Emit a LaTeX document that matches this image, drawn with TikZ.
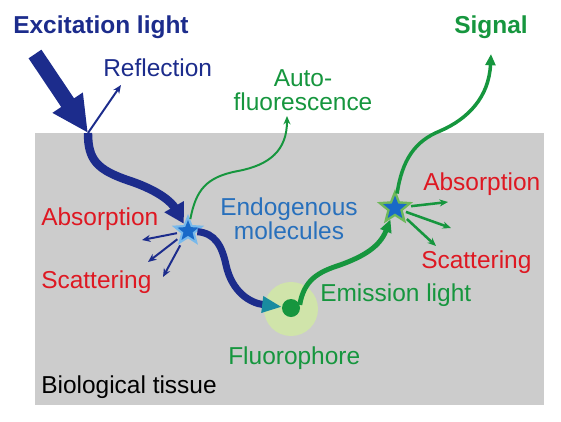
\documentclass[tikz,border=0pt]{standalone}
\usepackage{fontspec}
\setmainfont{Liberation Sans}
\usetikzlibrary{arrows.meta,shapes.geometric}
\definecolor{darkblue}{RGB}{28,44,140}
\definecolor{molblue}{RGB}{40,112,188}
\definecolor{sigreen}{RGB}{22,150,62}
\definecolor{lossred}{RGB}{222,24,34}
\definecolor{tissuegray}{RGB}{204,204,204}
\definecolor{glowgreen}{RGB}{208,228,170}
\definecolor{glowblue}{RGB}{120,185,235}
\definecolor{starblue}{RGB}{25,105,200}
\definecolor{tealhead}{RGB}{25,140,160}
\definecolor{stargreen}{RGB}{110,185,90}
\tikzset{
  lbl/.style={inner sep=0pt, anchor=base west, font=\fontsize{17.4}{16.4}\selectfont},
  blue thin/.style={darkblue, line width=1.4pt, -{Stealth[length=6pt,width=5pt]}},
  green thin/.style={sigreen, line width=1.8pt, -{Stealth[length=6pt,width=5pt]}},
  molecule/.style={star, star points=5, star point ratio=2.3, inner sep=0pt}
}

\begin{document}
\begin{tikzpicture}[x=0.025cm, y=-0.025cm]
  \useasboundingbox (0,0) rectangle (561,422);
  \fill[tissuegray] (35,133) rectangle (544,405);

  % glows, molecules and fluorophore
  \node[circle, fill=glowgreen, minimum size=1.35cm] (fglow) at (291,309) {};
  \node[molecule, fill=glowblue, minimum size=0.85cm] (star1) at (188,231) {};
  \node[molecule, fill=stargreen, minimum size=0.95cm] (star2) at (395,208) {};
  \node[circle, fill=sigreen, minimum size=0.45cm, inner sep=0pt] (dot) at (291,308) {};

  \coordinate (excstart) at (35,54);
  \coordinate (entry) at (88,133);
  \coordinate (reflend) at (121,85);
  \coordinate (autoend) at (287,116);
  \coordinate (sigend) at (491,54);
  \coordinate (sc1) at (142,240);
  \coordinate (sc2) at (148,262);
  \coordinate (sc3) at (163,277);
  \coordinate (gs1) at (448,202);
  \coordinate (gs2) at (451,228);
  \coordinate (gs3) at (436,246);

  % excitation light
  \draw[darkblue, line width=11pt, -{Triangle[length=26pt,width=24pt]}] (excstart) -- (entry);
  \draw[blue thin] (entry) -- (reflend);
  \draw[darkblue, line width=6pt, -{Triangle[length=14pt,width=15pt]}]
    (entry) .. controls (88,160) and (97,170) .. (130,181)
    .. controls (160,191) and (172,203) .. (star1);
  \draw[darkblue, line width=5pt, -{Triangle[length=14pt,width=11pt,color=tealhead]}]
    (star1) .. controls (215,233) and (222,246) .. (226,265)
    .. controls (232,292) and (250,303) .. (dot);
  \foreach \e in {sc1,sc2,sc3}
    \draw[blue thin, shorten <=2pt] (star1) -- (\e);

  % emitted light
  \draw[sigreen, line width=1.4pt, -{Stealth[length=6pt,width=5pt]}]
    (star1) .. controls (196,190) and (206,177) .. (238,171)
    .. controls (270,165) and (287,150) .. (autoend);
  \draw[sigreen, line width=3.5pt, -{Triangle[length=9pt,width=8pt]}]
    (dot.20) .. controls (304,280) and (318,272) .. (340,265)
    .. controls (365,256) and (380,246) .. (star2);
  \draw[sigreen, line width=2.5pt, -{Triangle[length=8pt,width=7pt]}]
    (star2) .. controls (402,160) and (415,141) .. (440,131)
    .. controls (468,119) and (489,97) .. (sigend);
  \foreach \e in {gs1,gs2,gs3}
    \draw[green thin, shorten <=2pt] (star2) -- (\e);

  \node[molecule, fill=starblue, minimum size=0.55cm] (star1in) at (188,231) {};
  \node[molecule, fill=starblue, minimum size=0.62cm] (star2in) at (395,208) {};

  % labels
  \node[lbl, darkblue, font=\fontsize{17.4}{16.4}\selectfont\bfseries] (exc) at (13,33) {Excitation light};
  \node[lbl, sigreen, font=\fontsize{17.4}{16.4}\selectfont\bfseries] (sig) at (454,33) {Signal};
  \node[lbl, darkblue] (refl) at (103,76) {Reflection};
  \node[lbl, sigreen, anchor=base, align=center] (auto) at (303,110) {Auto-\\fluorescence};
  \node[lbl, molblue, anchor=base, align=center] (endo) at (289,239) {Endogenous\\molecules};
  \node[lbl, lossred] (absL) at (41,225) {Absorption};
  \node[lbl, lossred] (scatL) at (41,288) {Scattering};
  \node[lbl, lossred] (absR) at (423,190) {Absorption};
  \node[lbl, lossred] (scatR) at (421,268) {Scattering};
  \node[lbl, sigreen] (emis) at (320,301) {Emission light};
  \node[lbl, sigreen] (fluo) at (228,364) {Fluorophore};
  \node[lbl] (tissue) at (41,393) {Biological tissue};
\end{tikzpicture}
\end{document}
